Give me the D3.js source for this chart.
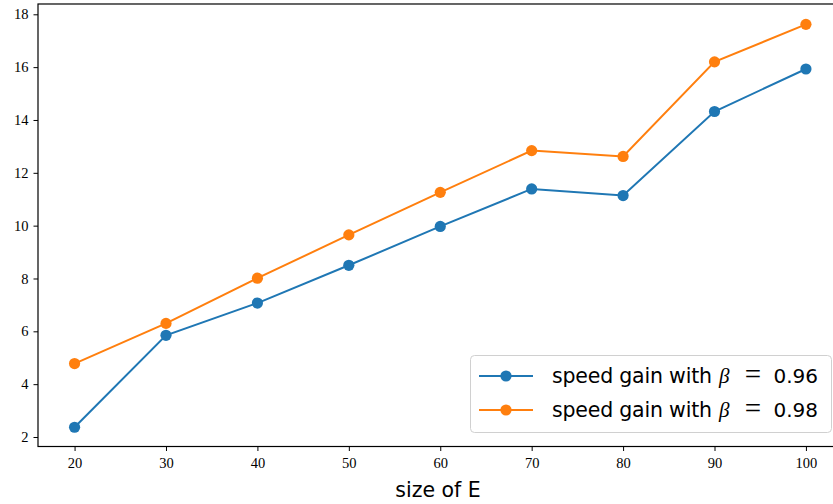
<!DOCTYPE html>
<html><head><meta charset="utf-8">
<script src="https://cdn.jsdelivr.net/npm/d3@7"></script>
<style>body{margin:0;background:#fff}svg{display:block}</style>
</head><body>
<script>
const sizes = [20, 30, 40, 50, 60, 70, 80, 90, 100];
const gain096 = [2.37, 5.85, 7.07, 8.50, 9.97, 11.39, 11.14, 14.32, 15.93];
const gain098 = [4.78, 6.30, 8.01, 9.65, 11.26, 12.84, 12.62, 16.20, 17.62];
const xTicks = [20, 30, 40, 50, 60, 70, 80, 90, 100];
const yTicks = [2, 4, 6, 8, 10, 12, 14, 16, 18];
const seriesNames = ["0.96", "0.98"];
const colors = ["#1f77b4", "#ff7f0e"];

const W = 833, H = 504;
const svg = d3.select("body").append("svg").attr("width", W).attr("height", H);
const x = d3.scaleLinear().domain([16, 104]).range([38, 842.5]);
const y = d3.scaleLinear().domain([2, 18]).range([437, 14.3]);
const pTop = y(18.39), pBottom = 446.5, pLeft = 38, pRight = 832;

const serif = "'Liberation Serif', 'DejaVu Serif', serif";
const sans = "'DejaVu Sans', sans-serif";

// axes
const xAxis = svg.append("g").attr("transform", `translate(0,${pBottom})`)
  .call(d3.axisBottom(x).tickValues(xTicks).tickSize(4.5).tickPadding(7).tickSizeOuter(0));
const yAxis = svg.append("g").attr("transform", `translate(${pLeft},0)`)
  .call(d3.axisLeft(y).tickValues(yTicks).tickSize(4.5).tickPadding(5).tickSizeOuter(0));
[xAxis, yAxis].forEach(g => {
  g.select(".domain").remove();
  g.selectAll("line").attr("stroke", "#000").attr("stroke-width", 1);
  g.selectAll("text").attr("font-family", serif).attr("font-size", 14.5).attr("fill", "#000");
});
// spines
svg.append("rect").attr("x", pLeft).attr("y", pTop).attr("width", pRight - pLeft + 20).attr("height", pBottom - pTop)
  .attr("fill", "none").attr("stroke", "#000").attr("stroke-width", 1.2);

const series = [gain096, gain098];
const line = d3.line().x((d, i) => x(sizes[i])).y(d => y(d));
series.forEach((s, k) => {
  svg.append("path").datum(s).attr("d", line).attr("fill", "none")
    .attr("stroke", colors[k]).attr("stroke-width", 2);
  svg.selectAll(null).data(s).enter().append("circle")
    .attr("cx", (d, i) => x(sizes[i])).attr("cy", d => y(d)).attr("r", 5.6).attr("fill", colors[k]);
});

// x label
svg.append("text").attr("x", 438).attr("y", 497).attr("text-anchor", "middle")
  .attr("font-family", sans).attr("font-size", 20.5).attr("fill", "#000").text("size of E");

// legend
const lg = svg.append("g");
lg.append("rect").attr("x", 470.5).attr("y", 355.5).attr("width", 361).attr("height", 77).attr("rx", 4)
  .attr("fill", "#fff").attr("fill-opacity", 0.85).attr("stroke", "#d0d0d0").attr("stroke-width", 1);
seriesNames.forEach((nm, k) => {
  const cy = 376 + k * 34;
  lg.append("line").attr("x1", 479).attr("x2", 533).attr("y1", cy).attr("y2", cy)
    .attr("stroke", colors[k]).attr("stroke-width", 2);
  lg.append("circle").attr("cx", 506).attr("cy", cy).attr("r", 5.6).attr("fill", colors[k]);
  lg.append("text").attr("x", 552).attr("y", cy + 7).attr("font-size", 20.5).attr("fill", "#000")
    .attr("font-family", sans).attr("textLength", 160).attr("lengthAdjust", "spacing").text("speed gain with");
  lg.append("text").attr("x", 719).attr("y", cy + 7).attr("font-size", 21).attr("fill", "#000")
    .attr("font-family", serif).attr("font-style", "italic").text("β");
  lg.append("text").attr("x", 753).attr("y", cy + 8).attr("font-size", 29).attr("fill", "#000")
    .attr("text-anchor", "middle").attr("font-family", serif).text("=");
  lg.append("text").attr("x", 818).attr("y", cy + 7).attr("font-size", 20).attr("fill", "#000")
    .attr("text-anchor", "end").attr("font-family", sans).text(nm);
});
</script>
</body></html>
